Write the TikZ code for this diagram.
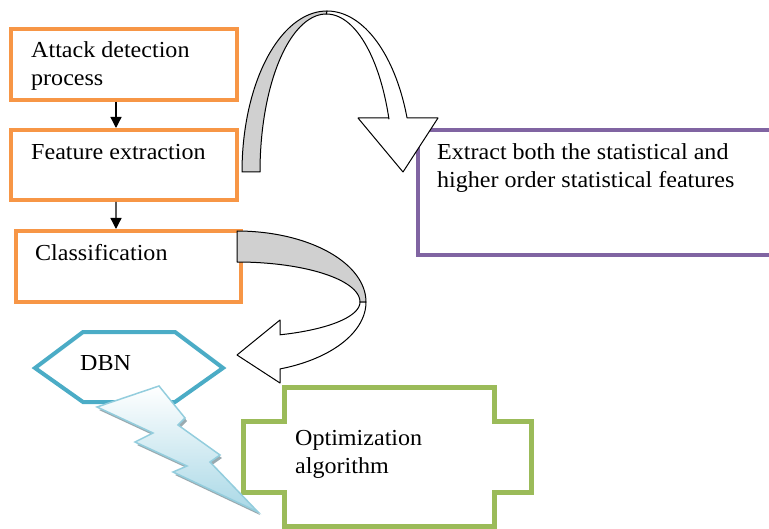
\documentclass[tikz,border=0pt]{standalone}
\usepackage{fontspec}
\setmainfont{Liberation Serif}[FakeStretch=1.05]
\usetikzlibrary{arrows.meta}
\definecolor{orng}{HTML}{F79646}
\definecolor{purp}{HTML}{8064A2}
\definecolor{tealc}{HTML}{4BACC6}
\definecolor{grn}{HTML}{9BBB59}
\definecolor{boltline}{HTML}{93CDDD}
\definecolor{boltfill}{HTML}{A9D8E6}
\definecolor{boltshadow}{HTML}{9AAAB0}
\definecolor{ribbon}{HTML}{D0D0D0}
\begin{document}
\begin{tikzpicture}[x=1bp,y=-1bp,
  orangebox/.style={draw=orng,line width=4bp,rectangle,inner sep=0pt},
  txt/.style={anchor=base west,inner sep=0pt,font=\fontsize{23}{28}\selectfont},
  smallarrow/.style={line width=1.3bp,-{Triangle[length=11bp,width=11bp]}},
  ribbonline/.style={draw=black,line width=1bp,line join=round}]
\useasboundingbox (0,0) rectangle (769,529);

% left boxes
\node[orangebox,minimum width=226bp,minimum height=71bp] (b1) at (124,64.5) {};
\node[orangebox,minimum width=226bp,minimum height=70bp] (b2) at (124,165) {};
\node[orangebox,minimum width=225bp,minimum height=71bp] (b3) at (128.5,266.5) {};
\draw[smallarrow] ([xshift=-8bp]b1.south) -- ([xshift=-8bp]b2.north);
\draw[smallarrow] ([xshift=-8bp]b2.south) -- ([xshift=-12.5bp]b3.north);

\node[txt] (t1a) at (31,58) {Attack detection};
\node[txt] (t1b) at (31,86) {process};
\node[txt] (t2) at (31,160) {Feature extraction};
\node[txt] (t3) at (35,261) {Classification};

% purple box
\node[draw=purp,line width=4bp,rectangle,inner sep=0pt,minimum width=372bp,minimum height=125bp] (pb) at (604,192.5) {};
\node[txt] (t4a) at (437,160) {Extract both the statistical and};
\node[txt] (t4b) at (437,188) {higher order statistical features};

% hexagon DBN
\draw[tealc,line width=4bp,line join=miter] (35,368) -- (83,332) -- (175,332) -- (223,368) -- (175,402) -- (83,402) -- cycle;
\node[txt] (t5) at (80,370) {DBN};

% green plus shape
\draw[grn,line width=5bp,line join=miter] (284,387) -- (494,387) -- (494,421) -- (531,421) -- (531,492) -- (494,492) -- (494,526) -- (284,526) -- (284,492) -- (243,492) -- (243,421) -- (284,421) -- cycle;
\node[txt] (t6a) at (295,445) {Optimization};
\node[txt] (t6b) at (295,473) {algorithm};

% lightning bolt
\fill[boltshadow,shift={(2,3)}] (97,407) -- (159,386) -- (185,418) -- (178,425) -- (220,455) -- (210,462) -- (258,512) -- (173,472) -- (187,466) -- (135,442) -- (153,433) -- cycle;
\draw[boltline,line width=1.5bp,top color=white,bottom color=boltfill,line join=miter] (97,407) -- (159,386) -- (185,418) -- (178,425) -- (220,455) -- (210,462) -- (258,512) -- (173,472) -- (187,466) -- (135,442) -- (153,433) -- cycle;

% top curved ribbon arrow
\filldraw[ribbonline,fill=ribbon] plot[domain=180:90,samples=40,variable=\t] ({327+85*cos(\t)},{172-161*sin(\t)})
  -- plot[domain=90:180,samples=40,variable=\t] ({326.4+66.4*cos(\t)},{172-158*sin(\t)}) -- cycle;
\filldraw[ribbonline,fill=white] plot[domain=90:19.6,samples=40,variable=\t] ({327+85*cos(\t)},{172-161*sin(\t)})
  -- (438,118) -- (403,172) -- (358,118) -- (389,118)
  -- plot[domain=19.6:90,samples=40,variable=\t] ({326.4+66.4*cos(\t)},{172-158*sin(\t)}) -- cycle;

% bottom curved ribbon arrow
\filldraw[ribbonline,fill=ribbon] plot[domain=90:0,samples=40,variable=\t] ({237+129*cos(\t)},{302-71*sin(\t)})
  -- plot[domain=0:90,samples=40,variable=\t] ({237+123*cos(\t)},{302-40*sin(\t)}) -- cycle;
\filldraw[ribbonline,fill=white] plot[domain=0:-70.5,samples=40,variable=\t] ({237+129*cos(\t)},{302-71*sin(\t)})
  -- (280,383) -- (237,355) -- (280,320) -- (280,335)
  -- plot[domain=-69.5:0,samples=40,variable=\t] ({237+123*cos(\t)},{302-35*sin(\t)}) -- cycle;
\end{tikzpicture}
\end{document}
